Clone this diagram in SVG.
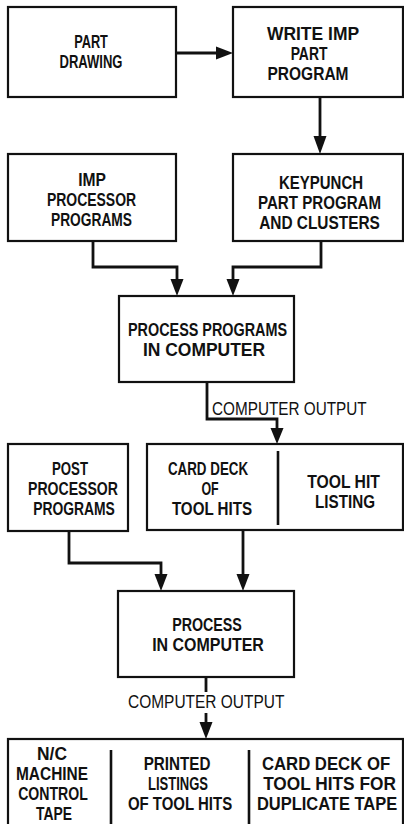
<svg xmlns="http://www.w3.org/2000/svg" width="404" height="824" viewBox="0 0 404 824">
  <defs>
    <style>
      .box { fill: #ffffff; stroke: #111; stroke-width: 2.2; }
      .div { stroke: #111; stroke-width: 2.6; fill: none; }
      .wire { stroke: #111; stroke-width: 2.8; fill: none; }
      .head { fill: #111; }
      .t { font-family: "Liberation Sans", Arial, sans-serif; font-weight: bold; font-size: 17.8px; fill: #111; text-anchor: middle; }
      .lbl { font-family: "Liberation Sans", Arial, sans-serif; font-size: 17.5px; fill: #111; }
    </style>
  </defs>
  <rect width="404" height="824" fill="#ffffff"/>

  <!-- connectors; box texts are set condensed: scale(0.75 1) with lengths in unscaled units -->
  <g id="connectors">
    <!-- part drawing -> write part program -->
    <path class="wire" d="M176 53 H218"/>
    <polygon class="head" points="233,53 216,46.5 216,59.5"/>
    <!-- write part program -> keypunch -->
    <path class="wire" d="M320 97 V138"/>
    <polygon class="head" points="320,154 313.5,136 326.5,136"/>
    <!-- processor programs -> process programs -->
    <path class="wire" d="M93 241 V267 H177 V280"/>
    <polygon class="head" points="177,296 170.5,279 183.5,279"/>
    <!-- keypunch -> process programs -->
    <path class="wire" d="M321 241 V267 H233 V280"/>
    <polygon class="head" points="233,296 226.5,279 239.5,279"/>
    <!-- process programs -> card deck / listing -->
    <path class="wire" d="M207 382 V419 H277 V429"/>
    <polygon class="head" points="277,444 270.5,428 283.5,428"/>
    <text class="lbl" transform="translate(212 415) scale(0.85 1)" textLength="182" lengthAdjust="spacingAndGlyphs">COMPUTER OUTPUT</text>
    <!-- post processor programs -> process in computer -->
    <path class="wire" d="M69 531 V563 H161 V575"/>
    <polygon class="head" points="161,591 154.5,574 167.5,574"/>
    <!-- card deck -> process in computer -->
    <path class="wire" d="M243 529 V575"/>
    <polygon class="head" points="243,591 236.5,574 249.5,574"/>
    <!-- process in computer -> outputs -->
    <path class="wire" d="M206 677 V692"/>
    <path class="wire" d="M206 713 V724"/>
    <polygon class="head" points="206,739 199.5,722 212.5,722"/>
    <text class="lbl" transform="translate(128 708) scale(0.85 1)" textLength="184" lengthAdjust="spacingAndGlyphs">COMPUTER OUTPUT</text>
  </g>

  <g id="part-drawing">
    <rect class="box" x="8" y="7" width="168" height="90"/>
    <text class="t" transform="translate(91 48) scale(0.75 1)" textLength="45" lengthAdjust="spacingAndGlyphs">PART</text>
    <text class="t" transform="translate(91 68) scale(0.75 1)" textLength="84" lengthAdjust="spacingAndGlyphs">DRAWING</text>
  </g>

  <g id="write-part-program">
    <rect class="box" x="233" y="7" width="170" height="90"/>
    <text class="t" transform="translate(313 40) scale(0.75 1)" textLength="123" lengthAdjust="spacingAndGlyphs">WRITE IMP</text>
    <text class="t" transform="translate(309 60) scale(0.75 1)" textLength="49" lengthAdjust="spacingAndGlyphs">PART</text>
    <text class="t" transform="translate(308 80) scale(0.75 1)" textLength="108" lengthAdjust="spacingAndGlyphs">PROGRAM</text>
  </g>

  <g id="imp-processor-programs">
    <rect class="box" x="8" y="154" width="168" height="87"/>
    <text class="t" transform="translate(92 186) scale(0.75 1)" textLength="37" lengthAdjust="spacingAndGlyphs">IMP</text>
    <text class="t" transform="translate(91.5 206) scale(0.75 1)" textLength="119" lengthAdjust="spacingAndGlyphs">PROCESSOR</text>
    <text class="t" transform="translate(91.5 226) scale(0.75 1)" textLength="108" lengthAdjust="spacingAndGlyphs">PROGRAMS</text>
  </g>

  <g id="keypunch">
    <rect class="box" x="233" y="154" width="170" height="87"/>
    <text class="t" transform="translate(321 189) scale(0.75 1)" textLength="112" lengthAdjust="spacingAndGlyphs">KEYPUNCH</text>
    <text class="t" transform="translate(319.5 209) scale(0.75 1)" textLength="164" lengthAdjust="spacingAndGlyphs">PART PROGRAM</text>
    <text class="t" transform="translate(319.5 229) scale(0.75 1)" textLength="161" lengthAdjust="spacingAndGlyphs">AND CLUSTERS</text>
  </g>

  <g id="process-programs">
    <rect class="box" x="119" y="296" width="175" height="86"/>
    <text class="t" transform="translate(207.5 336) scale(0.75 1)" textLength="212" lengthAdjust="spacingAndGlyphs">PROCESS PROGRAMS</text>
    <text class="t" transform="translate(204 356) scale(0.75 1)" textLength="163" lengthAdjust="spacingAndGlyphs">IN COMPUTER</text>
  </g>

  <g id="post-processor-programs">
    <rect class="box" x="8" y="444" width="120" height="87"/>
    <text class="t" transform="translate(70 475) scale(0.75 1)" textLength="48" lengthAdjust="spacingAndGlyphs">POST</text>
    <text class="t" transform="translate(73 495) scale(0.75 1)" textLength="120" lengthAdjust="spacingAndGlyphs">PROCESSOR</text>
    <text class="t" transform="translate(74 515) scale(0.75 1)" textLength="109" lengthAdjust="spacingAndGlyphs">PROGRAMS</text>
  </g>

  <g id="card-deck-tool-hits">
    <rect class="box" x="147" y="444" width="256" height="86"/>
    <path class="div" d="M278 451 V525"/>
    <text class="t" transform="translate(208 475) scale(0.75 1)" textLength="107" lengthAdjust="spacingAndGlyphs">CARD DECK</text>
    <text class="t" transform="translate(210 495) scale(0.75 1)" textLength="23" lengthAdjust="spacingAndGlyphs">OF</text>
    <text class="t" transform="translate(212 515) scale(0.75 1)" textLength="107" lengthAdjust="spacingAndGlyphs">TOOL HITS</text>
    <text class="t" transform="translate(343.5 488) scale(0.75 1)" textLength="97" lengthAdjust="spacingAndGlyphs">TOOL HIT</text>
    <text class="t" transform="translate(345 508) scale(0.75 1)" textLength="80" lengthAdjust="spacingAndGlyphs">LISTING</text>
  </g>

  <g id="process-in-computer">
    <rect class="box" x="118" y="591" width="176" height="86"/>
    <text class="t" transform="translate(207 631) scale(0.75 1)" textLength="93" lengthAdjust="spacingAndGlyphs">PROCESS</text>
    <text class="t" transform="translate(208 651) scale(0.75 1)" textLength="149" lengthAdjust="spacingAndGlyphs">IN COMPUTER</text>
  </g>

  <g id="outputs">
    <rect class="box" x="8" y="739" width="395" height="95"/>
    <path class="div" d="M111 750 V824"/>
    <path class="div" d="M249 750 V824"/>
    <text class="t" transform="translate(52 760) scale(0.75 1)" textLength="40" lengthAdjust="spacingAndGlyphs">N/C</text>
    <text class="t" transform="translate(52 780) scale(0.75 1)" textLength="96" lengthAdjust="spacingAndGlyphs">MACHINE</text>
    <text class="t" transform="translate(53 800) scale(0.75 1)" textLength="93" lengthAdjust="spacingAndGlyphs">CONTROL</text>
    <text class="t" transform="translate(54 820) scale(0.75 1)" textLength="48" lengthAdjust="spacingAndGlyphs">TAPE</text>
    <text class="t" transform="translate(177 770) scale(0.75 1)" textLength="89" lengthAdjust="spacingAndGlyphs">PRINTED</text>
    <text class="t" transform="translate(178 790) scale(0.75 1)" textLength="80" lengthAdjust="spacingAndGlyphs">LISTINGS</text>
    <text class="t" transform="translate(180 810) scale(0.75 1)" textLength="139" lengthAdjust="spacingAndGlyphs">OF TOOL HITS</text>
    <text class="t" transform="translate(326 770) scale(0.75 1)" textLength="171" lengthAdjust="spacingAndGlyphs">CARD DECK OF</text>
    <text class="t" transform="translate(329.5 790) scale(0.75 1)" textLength="177" lengthAdjust="spacingAndGlyphs">TOOL HITS FOR</text>
    <text class="t" transform="translate(327 810) scale(0.75 1)" textLength="187" lengthAdjust="spacingAndGlyphs">DUPLICATE TAPE</text>
  </g>
</svg>
